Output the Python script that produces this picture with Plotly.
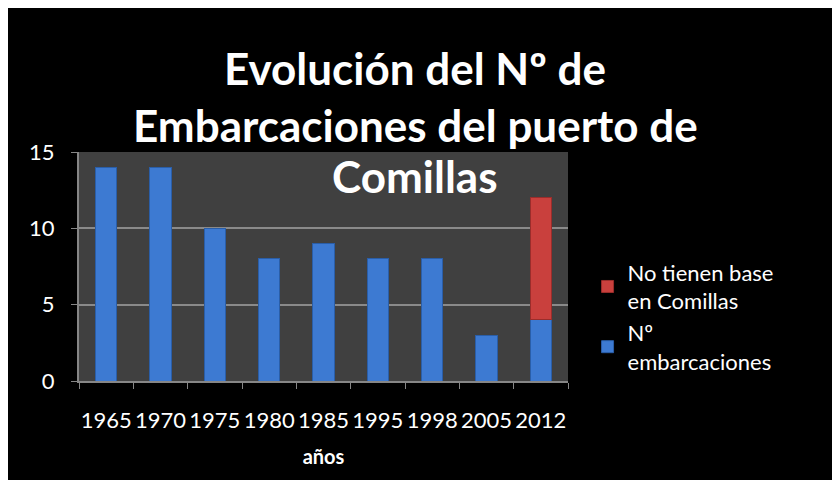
import plotly.graph_objects as go

# ── data ─────────────────────────────────────────────
years = ["1965", "1970", "1975", "1980", "1985", "1995", "1998", "2005", "2012"]
embarcaciones = [14, 14, 10, 8, 9, 8, 8, 3, 4]
sin_base = [None, None, None, None, None, None, None, None, 8]
title_lines = ["Evolución del Nº de", "Embarcaciones del puerto de", "Comillas"]

FONT = "Lato"

fig = go.Figure()
fig.add_trace(go.Bar(
    x=years, y=embarcaciones, name="Nº<br>embarcaciones",
    marker=dict(color="#3d7ad2", line=dict(color="#2a5ea8", width=1)),
    width=0.39,
))
fig.add_trace(go.Bar(
    x=years, y=sin_base, name="No tienen base<br>en Comillas",
    marker=dict(color="#c9403d", line=dict(color="#9a2d2b", width=1)),
    width=0.39,
))

# title, one annotation per line (plot area spans fig y 144..373)
for line, ypix in zip(title_lines, [60, 117, 168]):
    fig.add_annotation(
        text=f"<b>{line}</b>", xref="paper", yref="paper",
        x=(407 - 71) / 489, y=(373 - ypix) / 229,
        xanchor="center", yanchor="middle", showarrow=False,
        font=dict(family=FONT, size=44, color="white"),
    )

fig.update_layout(
    width=824, height=472,
    barmode="stack",
    paper_bgcolor="black",
    plot_bgcolor="#404040",
    margin=dict(l=71, r=264, t=144, b=99),
    font=dict(family=FONT, color="white", size=21),
    legend=dict(
        x=1.04, xanchor="left", y=0.28, yanchor="middle",
        traceorder="reversed",
        font=dict(size=22, color="white"),
        bgcolor="rgba(0,0,0,0)",
    ),
    showlegend=True,
)

fig.update_xaxes(
    title=dict(text="<b>años</b>", font=dict(size=20), standoff=18),
    showline=True, linecolor="#868686", linewidth=2,
    ticks="outside", tickson="boundaries", ticklen=6, tickcolor="#868686",
    ticklabelstandoff=19,
    tickangle=0, tickfont=dict(size=22),
    showgrid=False,
)
fig.update_yaxes(
    range=[0, 15], tickvals=[0, 5, 10, 15],
    showline=True, linecolor="#868686", linewidth=2,
    ticks="outside", ticklen=6, tickcolor="#868686",
    ticklabelstandoff=12,
    tickfont=dict(size=22),
    showgrid=True, gridcolor="#8a8a8a", gridwidth=1.5,
    zeroline=False,
)

fig.write_html("out.html")
